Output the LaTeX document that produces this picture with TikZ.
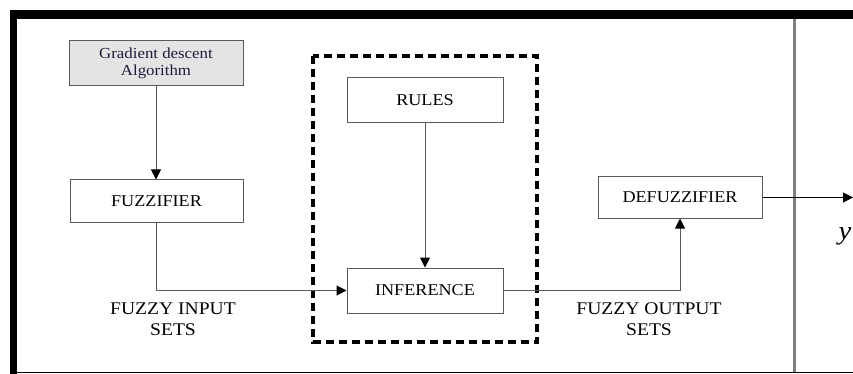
\documentclass[tikz,border=0pt]{standalone}
\usepackage{fontspec}
\setmainfont[FakeStretch=1.1]{Liberation Serif}
\usetikzlibrary{arrows.meta}

\definecolor{boxgray}{HTML}{E4E4E4}
\definecolor{linegray}{HTML}{5A5A5A}
\definecolor{navytext}{HTML}{1C1C3A}

\begin{document}
\begin{tikzpicture}[x=1pt,y=-1pt,
  block/.style={draw=linegray, line width=1pt, minimum height=44pt, align=center,
    font=\fontsize{16.5}{17}\selectfont},
  lbl/.style={align=center, font=\fontsize{17.8}{21}\selectfont},
  flow/.style={draw=linegray, line width=1pt, -{Triangle[length=10pt,width=10pt,color=black]}}]
  \useasboundingbox (0,0) rectangle (853,374);
  % outer frame
  \fill (10,10) rectangle (853,19);
  \fill (10,10) rectangle (17,374);
  \draw[line width=1.5pt] (10,372.5) -- (853,372.5);
  \draw[gray, line width=2.5pt] (794.5,19) -- (794.5,372);
  % dashed group around rules and inference
  \draw[line width=3.2pt, dash pattern=on 8pt off 5pt] (313,56) rectangle (537,342);
  % blocks
  \node[block, fill=boxgray, text=navytext, minimum width=174pt, minimum height=45pt,
    font=\fontsize{15.3}{17}\selectfont] (grad) at (156,63.5) {Gradient descent\\Algorithm};
  \node[block, minimum width=173pt, minimum height=42pt] (fuzz) at (156.5,201) {FUZZIFIER};
  \node[block, minimum width=156pt, minimum height=45pt] (rules) at (425,100.5) {RULES};
  \node[block, minimum width=156pt, minimum height=45pt] (infer) at (425,290.5) {INFERENCE};
  \node[block, minimum width=164pt, minimum height=41pt] (defuzz) at (680,197.5) {DEFUZZIFIER};
  % labels
  \node[lbl] (inlbl) at (173,319) {FUZZY INPUT\\SETS};
  \node[lbl] (outlbl) at (649,319) {FUZZY OUTPUT\\SETS};
  \node[font=\fontsize{26}{26}\selectfont\itshape] (ylab) at (845,236) {y};
  \coordinate (out) at (853,197.5);
  % connectors
  \draw[flow] (grad.south) -- (grad.south |- fuzz.north);
  \draw[flow] (fuzz.south) |- (infer.west);
  \draw[flow] (rules) -- (infer);
  \draw[flow] (infer.east) -| (defuzz.south);
  \draw[flow, draw=black] (defuzz.east) -- (out);
\end{tikzpicture}
\end{document}
